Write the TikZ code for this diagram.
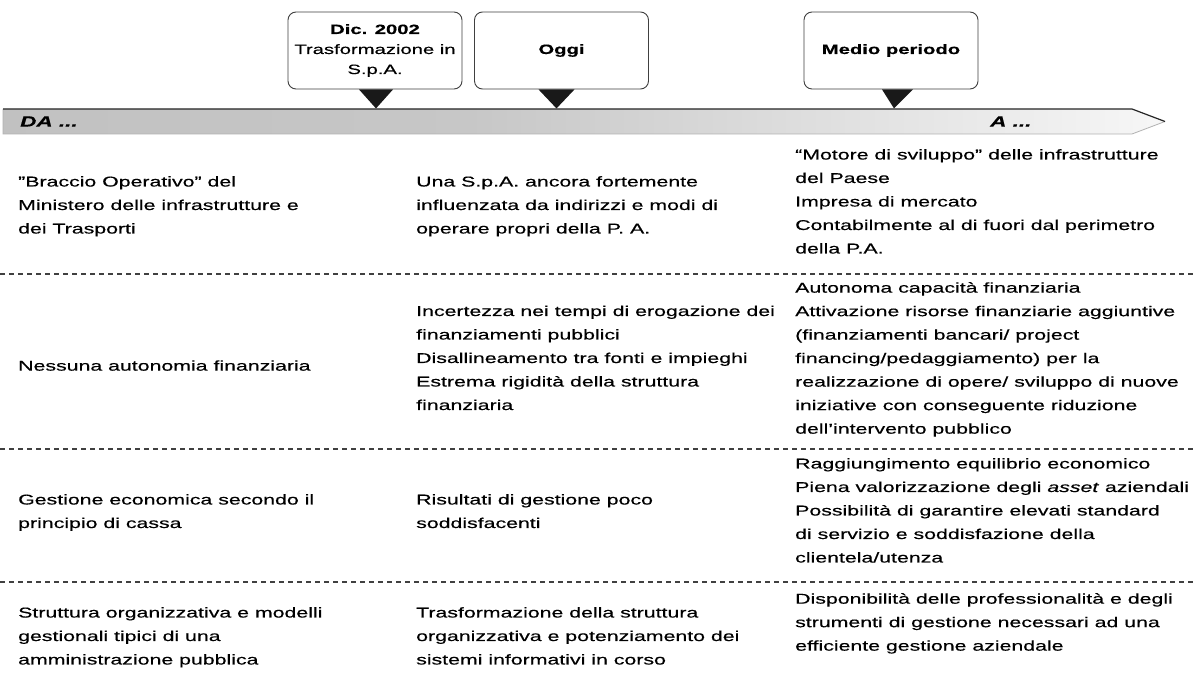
\documentclass[tikz,border=0pt]{standalone}
\usepackage{fontspec}
\setmainfont{Liberation Sans}[FakeStretch=1.5,FakeBold=0.4]
\usetikzlibrary{calc}
\pgfdeclarehorizontalshading{barshade}{100bp}{color(0bp)=(black!27); color(45bp)=(black!22); color(66bp)=(black!9); color(80bp)=(white); color(100bp)=(white)}
\begin{document}
\begin{tikzpicture}[x=1pt,y=-1pt,
  txt/.style={anchor=north west, inner sep=0pt, align=left, text=black,
    font=\fontsize{14.2}{23.5}\selectfont, execute at begin node=\strut},
  callout/.style={draw=black!75, line width=0.9pt, rounded corners=8pt,
    minimum width=174pt, minimum height=77pt, align=center, inner sep=2pt,
    font=\fontsize{13.5}{20}\selectfont},
  tri/.style={fill=black!90},
  barlbl/.style={anchor=west, inner sep=0pt, font=\fontsize{15}{18}\selectfont\bfseries\itshape},
  dashline/.style={draw=black!75, line width=1.3pt, dash pattern=on 5pt off 4pt}]
\useasboundingbox (0,0) rectangle (1197,676);
\fill[white] (0,0) rectangle (1197,676);

% timeline bar
\shade[shading=barshade] (3,109) -- (1132,109) -- (1165,121.5) -- (1132,134) -- (3,134) -- cycle;
\draw[black!30, line width=0.8pt] (1165,121.5) -- (1132,134) -- (3,134) -- (3,109);
\draw[black!85, line width=1.2pt] (3,109) -- (1132,109) -- (1165,121.5);
\node[barlbl] (da) at (20,121.5) {DA ...};
\node[barlbl] (a) at (990,121.5) {A ...};

% callouts
\node[callout] (c1) at (375,50.5) {\textbf{Dic. 2002}\\Trasformazione in\\S.p.A.};
\node[callout] (c2) at (561.5,50.5) {\textbf{Oggi}};
\node[callout] (c3) at (891,50.5) {\textbf{Medio periodo}};
\fill[tri] ($(c1.south)+(-16,0)$) -- ($(c1.south)+(18,0)$) -- ($(c1.south)+(1,19)$) -- cycle;
\fill[tri] ($(c2.south)+(-23,0)$) -- ($(c2.south)+(13,0)$) -- ($(c2.south)+(-5,19)$) -- cycle;
\fill[tri] ($(c3.south)+(-9,0)$) -- ($(c3.south)+(22,0)$) -- ($(c3.south)+(3,19)$) -- cycle;

% separators
\draw[dashline] (0,274) -- (1197,274);
\draw[dashline] (0,449) -- (1197,449);
\draw[dashline] (0,582) -- (1197,582);

% row 1
\node[txt] (r1c1) at (18,176) {"Braccio Operativo" del\\Ministero delle infrastrutture e\\dei Trasporti};
\node[txt] (r1c2) at (416,176) {Una S.p.A. ancora fortemente\\influenzata da indirizzi e modi di\\operare propri della P. A.};
\node[txt] (r1c3) at (795,149) {“Motore di sviluppo” delle infrastrutture\\del Paese\\Impresa di mercato\\Contabilmente al di fuori dal perimetro\\della P.A.};

% row 2
\node[txt] (r2c1) at (18,354) {Nessuna autonomia finanziaria};
\node[txt] (r2c2) at (416,305.5) {Incertezza nei tempi di erogazione dei\\finanziamenti pubblici\\Disallineamento tra fonti e impieghi\\Estrema rigidità della struttura\\finanziaria};
\node[txt] (r2c3) at (795,282) {Autonoma capacità finanziaria\\Attivazione risorse finanziarie aggiuntive\\(finanziamenti bancari/ project\\financing/pedaggiamento) per la\\realizzazione di opere/ sviluppo di nuove\\iniziative con conseguente riduzione\\dell’intervento pubblico};

% row 3
\node[txt] (r3c1) at (18,494) {Gestione economica secondo il\\principio di cassa};
\node[txt] (r3c2) at (416,494) {Risultati di gestione poco\\soddisfacenti};
\node[txt] (r3c3) at (795,458) {Raggiungimento equilibrio economico\\Piena valorizzazione degli \textit{asset} aziendali\\Possibilità di garantire elevati standard\\di servizio e soddisfazione della\\clientela/utenza};

% row 4
\node[txt] (r4c1) at (18,607) {Struttura organizzativa e modelli\\gestionali tipici di una\\amministrazione pubblica};
\node[txt] (r4c2) at (416,607) {Trasformazione della struttura\\organizzativa e potenziamento dei\\sistemi informativi in corso};
\node[txt] (r4c3) at (795,593) {Disponibilità delle professionalità e degli\\strumenti di gestione necessari ad una\\efficiente gestione aziendale};
\end{tikzpicture}
\end{document}
